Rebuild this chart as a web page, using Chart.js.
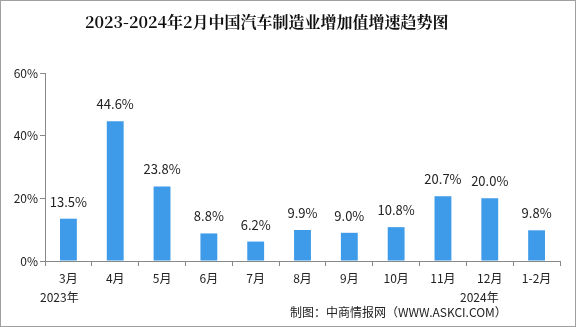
<!DOCTYPE html>
<html>
<head>
<meta charset="utf-8">
<script src="https://cdn.jsdelivr.net/npm/chart.js@4/dist/chart.umd.min.js"></script>
<style>
  html, body { margin: 0; padding: 0; background: #fff; }
  #wrap { position: relative; width: 576px; height: 327px; box-sizing: border-box; border: 1px solid #a0a0a0; overflow: hidden; }
  #chartAuto { position: absolute; left: -1px; top: -1px; }
  .txt { position: absolute; font-family: "Noto Sans CJK SC", sans-serif; color: #222; white-space: nowrap; }
  #title { left: 84px; top: 9px; font-family: "Noto Serif CJK SC", "Noto Sans CJK SC", serif; font-weight: bold; font-size: 16px; color: #111; }
</style>
</head>
<body>
<div id="wrap">
  <canvas id="chartAuto" width="576" height="327"></canvas>
  <div class="txt" id="title">2023-2024年2月中国汽车制造业增加值增速趋势图</div>
  <div class="txt" style="left:39px; top:287px; font-size:12px;">2023年</div>
  <div class="txt" style="left:459px; top:287px; font-size:12px;">2024年</div>
  <div class="txt" style="left:289px; top:302px; font-size:12px;">制图：中商情报网（WWW.ASKCI.COM）</div>
</div>
<script>
// === DONNÉES ===
const categories = ["3月", "4月", "5月", "6月", "7月", "8月", "9月", "10月", "11月", "12月", "1-2月"];
const growthValues = [13.5, 44.6, 23.8, 8.8, 6.2, 9.9, 9.0, 10.8, 20.7, 20.0, 9.8];
const yTicks = [0, 20, 40, 60];

// étiquettes au-dessus des barres
const barLabels = {
    id: "barLabels",
    afterDatasetsDraw(chart) {
        const ctx = chart.ctx;
        const meta = chart.getDatasetMeta(0);
        ctx.save();
        ctx.font = "13px 'Noto Sans CJK SC', sans-serif";
        ctx.fillStyle = "#222";
        ctx.textAlign = "center";
        ctx.textBaseline = "middle";
        meta.data.forEach((bar, i) => {
            ctx.fillText(growthValues[i].toFixed(1) + "%", bar.x, bar.y - 17);
        });
        ctx.restore();
    }
};

new Chart(document.getElementById("chartAuto"), {
    type: "bar",
    data: {
        labels: categories,
        datasets: [{
            data: growthValues,
            backgroundColor: "#3d9be9",
            barPercentage: 0.36,
            categoryPercentage: 1
        }]
    },
    options: {
        responsive: false,
        animation: false,
        layout: { padding: { top: 73, right: 16, bottom: 38, left: 0 } },
        plugins: { legend: { display: false }, tooltip: { enabled: false } },
        scales: {
            x: {
                afterFit(s) { s.height = 28; },
                grid: { offset: true, drawOnChartArea: false, tickLength: 5, color: "#888" },
                border: { color: "#888" },
                ticks: { color: "#222", font: { family: "Noto Sans CJK SC", size: 12 }, padding: 5 }
            },
            y: {
                min: 0,
                max: 60,
                afterFit(s) { s.width = 45; },
                afterBuildTicks(s) { s.ticks = yTicks.map(v => ({ value: v })); },
                grid: { drawOnChartArea: false, tickLength: 5, color: "#888" },
                border: { color: "#888" },
                ticks: {
                    color: "#222",
                    font: { family: "Noto Sans CJK SC", size: 12 },
                    padding: 2,
                    callback: v => v + "%"
                }
            }
        }
    },
    plugins: [barLabels]
});
</script>
</body>
</html>
